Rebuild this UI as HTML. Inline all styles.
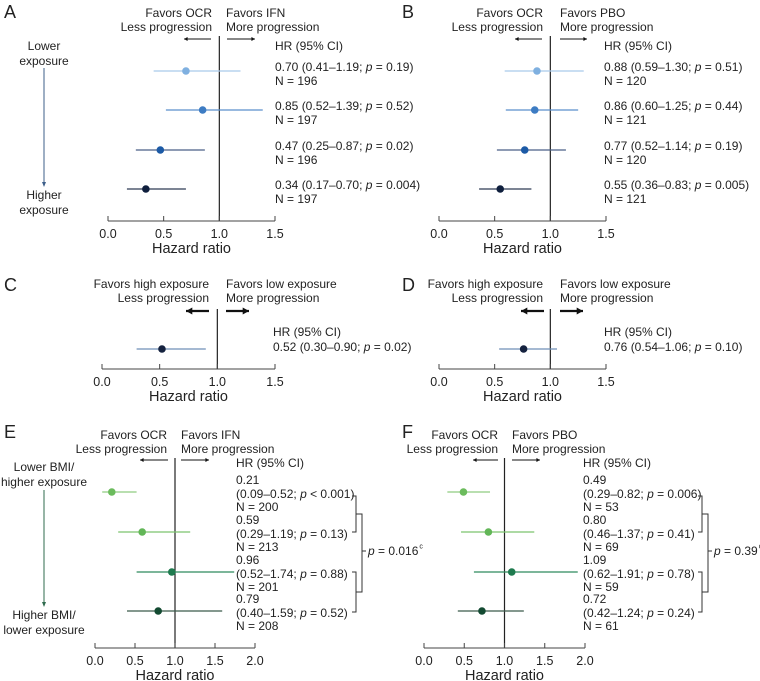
<!DOCTYPE html>
<html><head><meta charset="utf-8">
<style>
html,body{margin:0;padding:0;background:#fff;}
svg{display:block;font-family:"Liberation Sans",sans-serif;}
text{fill:#222;}
</style></head>
<body>
<svg id="chart" width="760" height="681" viewBox="0 0 760 681"></svg>
<script>
// ---- data ----
const hrA=[0.70,0.85,0.47,0.34], loA=[0.41,0.52,0.25,0.17], hiA=[1.19,1.39,0.87,0.70];
const labA=["0.70 (0.41–1.19; |p| = 0.19)","0.85 (0.52–1.39; |p| = 0.52)","0.47 (0.25–0.87; |p| = 0.02)","0.34 (0.17–0.70; |p| = 0.004)"];
const nA=["N = 196","N = 197","N = 196","N = 197"];
const hrB=[0.88,0.86,0.77,0.55], loB=[0.59,0.60,0.52,0.36], hiB=[1.30,1.25,1.14,0.83];
const labB=["0.88 (0.59–1.30; |p| = 0.51)","0.86 (0.60–1.25; |p| = 0.44)","0.77 (0.52–1.14; |p| = 0.19)","0.55 (0.36–0.83; |p| = 0.005)"];
const nB=["N = 120","N = 121","N = 120","N = 121"];
const hrC=[0.52], loC=[0.30], hiC=[0.90], labC=["0.52 (0.30–0.90; |p| = 0.02)"];
const hrD=[0.76], loD=[0.54], hiD=[1.06], labD=["0.76 (0.54–1.06; |p| = 0.10)"];
const hrE=[0.21,0.59,0.96,0.79], loE=[0.09,0.29,0.52,0.40], hiE=[0.52,1.19,1.74,1.59];
const labE=["(0.09–0.52; |p| < 0.001)","(0.29–1.19; |p| = 0.13)","(0.52–1.74; |p| = 0.88)","(0.40–1.59; |p| = 0.52)"];
const nE=["N = 200","N = 213","N = 201","N = 208"];
const hrF=[0.49,0.80,1.09,0.72], loF=[0.29,0.46,0.62,0.42], hiF=[0.82,1.37,1.91,1.24];
const labF=["(0.29–0.82; |p| = 0.006)","(0.46–1.37; |p| = 0.41)","(0.62–1.91; |p| = 0.78)","(0.42–1.24; |p| = 0.24)"];
const nF=["N = 53","N = 69","N = 59","N = 61"];
const ticks15=[0,0.5,1.0,1.5], ticks20=[0,0.5,1.0,1.5,2.0];
const blueDot=["#7fb0e0","#3d7cc3","#1c5aa6","#0f1f3d"], blueLine=["#a9c9ea","#5b8fcc","#4a5f86","#2f3b55"];
const greenDot=["#6bbb5c","#62b657","#1e7a4e","#134a31"], greenLine=["#8fcc80","#7cc46e","#2f8a5d","#3b5a4a"];

const svg=document.getElementById('chart');
const NS="http://www.w3.org/2000/svg";
function mk(tag,attrs,parent){const e=document.createElementNS(NS,tag);for(const k in attrs)e.setAttribute(k,attrs[k]);(parent||svg).appendChild(e);return e;}
function txt(x,y,s,opts,parent){
  opts=opts||{};
  const t=mk('text',{x:x,y:y,'dominant-baseline':'central','text-anchor':opts.anchor||'start',style:'font-size:'+(opts.size||12)+'px'},parent);
  
  
  const parts=s.split('|');
  parts.forEach((p,i)=>{const ts=document.createElementNS(NS,'tspan');ts.textContent=p;if(i%2===1)ts.setAttribute('font-style','italic');t.appendChild(ts);});
  return t;
}
function line(x1,y1,x2,y2,stroke,w,parent){return mk('line',{x1:x1,y1:y1,x2:x2,y2:y2,stroke:stroke,'stroke-width':w||1},parent);}
function arrow(x1,x2,y,w,parent){
  const g=mk('g',{},parent);
  
  
  line(x1,y,x2,y,'#111',w,g);
  const d=x2>x1?1:-1, h=w>1.5?3.5:2;
  mk('polygon',{points:`${x2},${y} ${x2-d*h*1.8},${y-h} ${x2-d*h*1.8},${y+h}`,fill:'#111'},g);
}
function panel(p){
  const g=mk('g',{});
  
  
  const sx=v=>p.x0+(v/p.max)*(p.x1-p.x0);
  txt(p.lx,p.ly,p.letter,{size:18,name:'panel-letter'},g);
  const xr=sx(1);
  txt(p.hl,p.hy,p.h1L,{anchor:'end',name:'favors-left-label'},g);
  txt(p.hl,p.hy+14,p.h2L,{anchor:'end',name:'progression-left-label'},g);
  txt(p.hr,p.hy,p.h1R,{name:'favors-right-label'},g);
  txt(p.hr,p.hy+14,p.h2R,{name:'progression-right-label'},g);
  arrow(p.al[0],p.al[1],p.ay,p.aw,g);
  arrow(p.ar[0],p.ar[1],p.ay,p.aw,g);
  const ref=line(xr,p.refTop,xr,p.axisY,'#222',1.2,g);
  
  
  const ax=mk('g',{},g);
  
  
  line(p.x0,p.axisY,p.x1,p.axisY,'#444',1,ax);
  p.ticks.forEach(t=>{line(sx(t),p.axisY,sx(t),p.axisY-5,'#444',1,ax);txt(sx(t),p.axisY+13,t.toFixed(1),{anchor:'middle',size:12.5,name:'x-tick-label'},ax);});
  txt((p.x0+p.x1)/2,p.axisY+28,'Hazard ratio',{anchor:'middle',size:14.5,name:'x-axis-title'},ax);
  txt(p.tx,p.hrY,'HR (95% CI)',{name:'hr-column-header'},g);
  p.hr_.forEach((v,i)=>{
    const y=p.rows[i];
    const row=mk('g',{},g);
    
    
    const ci=line(sx(p.lo[i]),y,sx(p.hi[i]),y,p.lc[i],1.3,row);
    
    
    const dot=mk('circle',{cx:sx(v),cy:y,r:3.8,fill:p.dc[i]},row);
    
    
    if(p.mode==='two'){
      txt(p.tx,y-4,p.lab[i],{name:'hr-value'},row);
      if(p.n) txt(p.tx,y+10,p.n[i],{name:'n-value'},row);
    } else if(p.mode==='one'){
      txt(p.tx,y-2,p.lab[i],{name:'hr-value'},row);
    } else {
      txt(p.tx,y-12,v.toFixed(2),{name:'hr-value'},row);
      txt(p.tx,y+2,p.lab[i],{name:'ci-value'},row);
      txt(p.tx,y+15,p.n[i],{name:'n-value'},row);
    }
  });
  if(p.side){
    const sg=mk('g',{},g);
    
    
    txt(44,p.side.y[0],p.side.t[0],{anchor:'middle',name:'side-label'},sg);
    txt(44,p.side.y[0]+15,p.side.t[1],{anchor:'middle',name:'side-label'},sg);
    line(44,p.side.a[0],44,p.side.a[1],p.side.c,1,sg);
    mk('polygon',{points:`44,${p.side.a[1]+3} 42,${p.side.a[1]-2} 46,${p.side.a[1]-2}`,fill:p.side.c},sg);
    txt(44,p.side.y[1],p.side.t[2],{anchor:'middle',name:'side-label'},sg);
    txt(44,p.side.y[1]+15,p.side.t[3],{anchor:'middle',name:'side-label'},sg);
  }
  if(p.br){
    const b=mk('g',{},g);
    
    
    const [xs,xb]=p.br.x;
    [[496,532],[572,612]].forEach(([a,c])=>{
      mk('polyline',{points:`${xs-4},${a} ${xs},${a} ${xs},${c} ${xs-4},${c}`,fill:'none',stroke:'#333','stroke-width':1},b);
    });
    mk('polyline',{points:`${xs},${514} ${xb},514 ${xb},592 ${xs},592`,fill:'none',stroke:'#333','stroke-width':1},b);
    line(xb,551,xb+4,551,'#333',1,b);
    const pt=txt(xb+6,551,p.br.t,{name:'interaction-p-value'},b);
    const w=pt.getComputedTextLength();
    const sup=mk('text',{x:xb+7+w,y:547,style:'font-size:7px','dominant-baseline':'central'},b);
    sup.textContent='c';
    
    
  }
}
const rowsAB=[71,110,150,189], rowsEF=[492,532,572,611];
panel({letter:'A',lx:4,ly:12,x0:108,x1:275,max:1.5,ticks:ticks15,axisY:221,refTop:36,
  hl:212,hr:226,hy:13,h1L:'Favors OCR',h2L:'Less progression',h1R:'Favors IFN',h2R:'More progression',
  al:[211,184],ar:[227,255],ay:39,aw:1,tx:275,hrY:46,rows:rowsAB,hr_:hrA,lo:loA,hi:hiA,lab:labA,n:nA,mode:'two',
  dc:blueDot,lc:blueLine,side:{y:[46,195],a:[68,184],t:['Lower','exposure','Higher','exposure'],c:'#3d5f8a'}});
panel({letter:'B',lx:402,ly:12,x0:439,x1:606,max:1.5,ticks:ticks15,axisY:221,refTop:36,
  hl:543,hr:560,hy:13,h1L:'Favors OCR',h2L:'Less progression',h1R:'Favors PBO',h2R:'More progression',
  al:[542,515],ar:[560,587],ay:39,aw:1,tx:604,hrY:46,rows:rowsAB,hr_:hrB,lo:loB,hi:hiB,lab:labB,n:nB,mode:'two',
  dc:blueDot,lc:blueLine});
panel({letter:'C',lx:4,ly:285,x0:102,x1:275,max:1.5,ticks:ticks15,axisY:369,refTop:309,
  hl:209,hr:226,hy:284,h1L:'Favors high exposure',h2L:'Less progression',h1R:'Favors low exposure',h2R:'More progression',
  al:[209,186],ar:[226,249],ay:311,aw:2.2,tx:273,hrY:332,rows:[349],hr_:hrC,lo:loC,hi:hiC,lab:labC,mode:'one',
  dc:['#15223f'],lc:['#6f8fb8']});
panel({letter:'D',lx:402,ly:285,x0:439,x1:606,max:1.5,ticks:ticks15,axisY:369,refTop:309,
  hl:543,hr:560,hy:284,h1L:'Favors high exposure',h2L:'Less progression',h1R:'Favors low exposure',h2R:'More progression',
  al:[544,521],ar:[560,583],ay:311,aw:2.2,tx:604,hrY:332,rows:[349],hr_:hrD,lo:loD,hi:hiD,lab:labD,mode:'one',
  dc:['#15223f'],lc:['#6f8fb8']});
panel({letter:'E',lx:4,ly:432,x0:95,x1:255,max:2.0,ticks:ticks20,axisY:648,refTop:458,
  hl:167,hr:181,hy:435,h1L:'Favors OCR',h2L:'Less progression',h1R:'Favors IFN',h2R:'More progression',
  al:[168,140],ar:[181,209],ay:460,aw:1,tx:236,hrY:463,rows:rowsEF,hr_:hrE,lo:loE,hi:hiE,lab:labE,n:nE,mode:'three',
  dc:greenDot,lc:greenLine,side:{y:[467,615],a:[490,604],t:['Lower BMI/','higher exposure','Higher BMI/','lower exposure'],c:'#2f6b4e'},
  br:{x:[356,362],t:'|p| = 0.016'}});
panel({letter:'F',lx:402,ly:432,x0:424,x1:585,max:2.0,ticks:ticks20,axisY:648,refTop:458,
  hl:498,hr:512,hy:435,h1L:'Favors OCR',h2L:'Less progression',h1R:'Favors PBO',h2R:'More progression',
  al:[498,473],ar:[512,540],ay:460,aw:1,tx:583,hrY:463,rows:rowsEF,hr_:hrF,lo:loF,hi:hiF,lab:labF,n:nF,mode:'three',
  dc:greenDot,lc:greenLine,br:{x:[702,708],t:'|p| = 0.39'}});
</script>
</body></html>
